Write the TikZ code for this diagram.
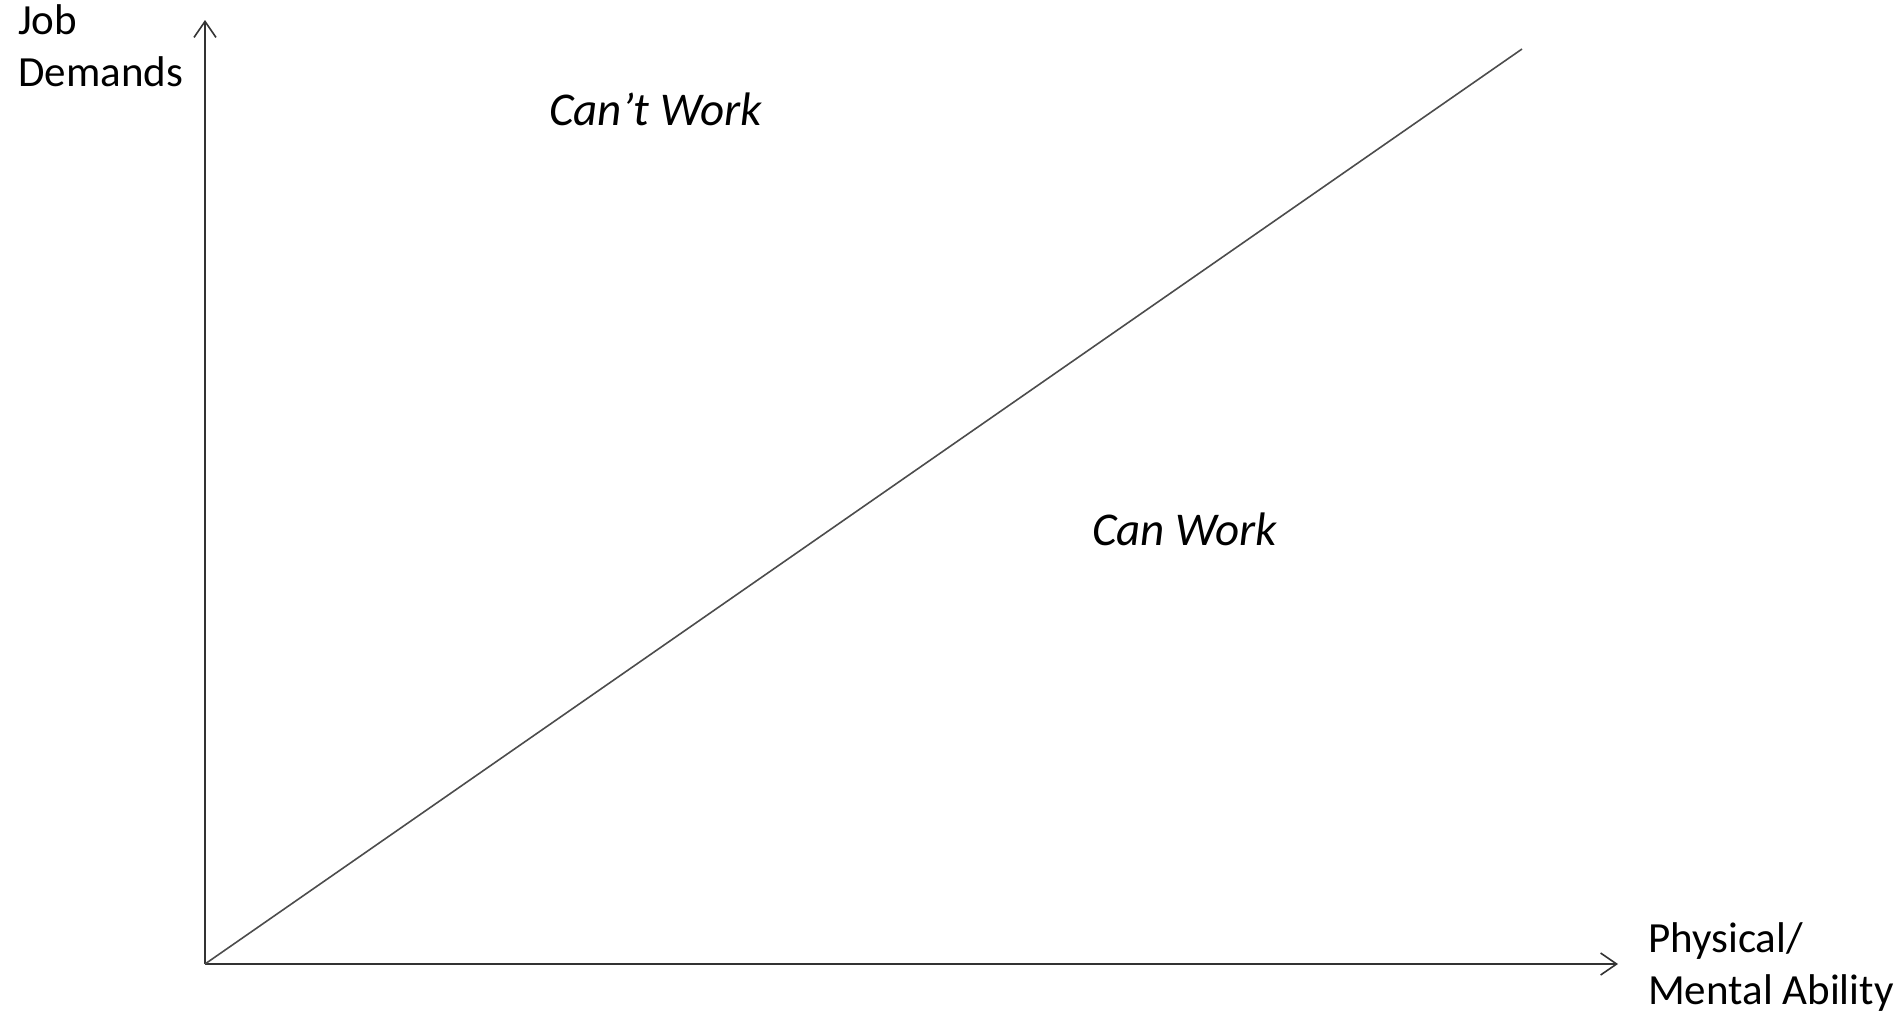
\documentclass[tikz,border=0pt]{standalone}
\usepackage{fontspec}
\setmainfont{Carlito}
\usetikzlibrary{arrows.meta}

\begin{document}
\begin{tikzpicture}[
  x=1pt, y=-1pt,
  axis/.style={draw=black!80, line width=1.6pt, -{Straight Barb[length=16pt, width=22pt, line width=1.6pt]}},
  bound/.style={draw=black!70, line width=1.6pt},
  lbl/.style={inner sep=0pt, anchor=base west, align=left, font=\fontsize{43}{52}\selectfont},
  region/.style={inner sep=0pt, anchor=base west, font=\fontsize{47}{52}\selectfont\itshape}
]
\useasboundingbox (0,0) rectangle (1901,1012);

\coordinate (origin) at (205,964);
\coordinate (ytip) at (205,20);
\coordinate (xtip) at (1618,964);
\coordinate (lineEnd) at (1522,49);

% Axes
\draw[axis] (origin) -- (ytip);
\draw[axis] (origin) -- (xtip);

% Boundary between regions
\draw[bound] (origin) -- (lineEnd);

% Labels
\node[lbl] (yLabel) at (18,86) {Job\\Demands};
\node[lbl] (xLabel) at (1648,1004) {Physical/\\Mental Ability};
\node[region] (cantWork) at (549,125) {Can’t Work};
\node[region] (canWork) at (1092,545) {Can Work};

\end{tikzpicture}
\end{document}
